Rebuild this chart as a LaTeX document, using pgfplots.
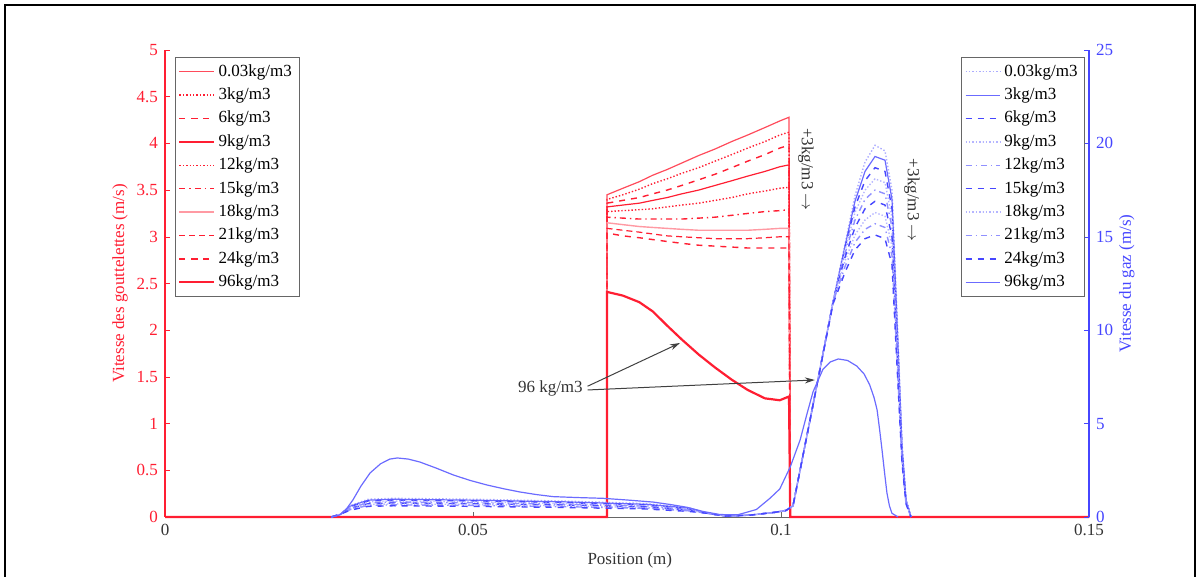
\documentclass[border=0pt]{standalone}
\usepackage{pgfplots}
\pgfplotsset{compat=1.18}
\usepackage{pgfplotstable}
\usepackage{fontspec}
\setmainfont{Liberation Serif}
\usetikzlibrary{arrows.meta}
\definecolor{myred}{RGB}{255,30,50}
\definecolor{myblue}{RGB}{70,70,255}
\newcommand{\fs}{\fontsize{8.5}{10}\selectfont}

% droplet velocity (left axis)
\pgfplotstableread{
x        r0   r1   r2   r3   r4   r5   r6   r7   r8   r96
0        0    0    0    0    0    0    0    0    0    0
0.07174  0    0    0    0    0    0    0    0    0    0
0.07176  3.45 3.40 3.36 3.32 3.27 3.21 3.15 3.09 3.04 2.41
0.07435  3.52 3.45 3.39 3.34 3.28 3.20 3.13 3.07 3.01 2.37
0.0770   3.59 3.51 3.42 3.36 3.29 3.19 3.11 3.05 2.99 2.30
0.0792   3.66 3.57 3.46 3.39 3.30 3.19 3.10 3.03 2.97 2.20
0.0815   3.72 3.62 3.50 3.42 3.32 3.19 3.09 3.01 2.95 2.05
0.0839   3.79 3.68 3.55 3.46 3.34 3.19 3.08 3.00 2.93 1.90
0.08663  3.87 3.74 3.61 3.50 3.36 3.20 3.07 2.99 2.91 1.74
0.0893   3.94 3.81 3.67 3.55 3.39 3.21 3.07 2.98 2.90 1.60
0.0920   4.02 3.88 3.74 3.60 3.42 3.23 3.07 2.98 2.89 1.47
0.0946   4.09 3.95 3.81 3.65 3.46 3.25 3.07 2.98 2.88 1.36
0.0974   4.17 4.02 3.88 3.70 3.49 3.27 3.08 2.99 2.88 1.27
0.0998   4.24 4.09 3.95 3.75 3.52 3.28 3.09 3.00 2.88 1.25
0.1013   4.28 4.12 3.98 3.77 3.53 3.29 3.09 3.00 2.88 1.29
0.1015   0    0    0    0    0    0    0    0    0    0
0.15     0    0    0    0    0    0    0    0    0    0
}\redtab

% gas velocity (right axis)
\pgfplotstableread{
x         b0   b1   b2   b3   b4   b5   b6   b7   b8
0.0270    0    0    0    0    0    0    0    0    0
0.0285    0.15 0.15 0.15 0.15 0.15 0.15 0.15 0.15 0.15
0.0300    0.60 0.57 0.54 0.51 0.48 0.45 0.42 0.39 0.36
0.0330    0.95 0.90 0.86 0.81 0.76 0.71 0.67 0.62 0.57
0.0370    1.00 0.95 0.90 0.85 0.80 0.75 0.70 0.65 0.60
0.0500    0.95 0.90 0.86 0.81 0.76 0.71 0.67 0.62 0.57
0.0650    0.85 0.81 0.77 0.72 0.68 0.64 0.60 0.55 0.51
0.0780    0.72 0.68 0.65 0.61 0.58 0.54 0.50 0.47 0.43
0.0850    0.50 0.48 0.45 0.43 0.40 0.38 0.35 0.33 0.30
0.0880    0.20 0.20 0.20 0.20 0.20 0.20 0.20 0.20 0.20
0.0910    0.05 0.05 0.05 0.05 0.05 0.05 0.05 0.05 0.05
0.0950    0.10 0.10 0.10 0.10 0.10 0.10 0.10 0.10 0.10
0.0990    0.25 0.25 0.25 0.25 0.25 0.25 0.25 0.25 0.25
0.100812  0.35 0.35 0.35 0.35 0.35 0.35 0.35 0.35 0.35
0.101948  0.6  0.6  0.6  0.6  0.6  0.6  0.6  0.6  0.6
0.105195  6.0  6.0  6.0  6.0  6.0  6.0  6.0  6.0  6.0
0.108442  11.5 11.5 11.5 11.5 11.5 11.5 11.5 11.5 11.4
0.110390  14.6 14.5 14.4 14.3 14.1 13.9 13.7 13.4 13.1
0.112013  17.2 16.9 16.6 16.3 15.9 15.5 15.1 14.7 14.3
0.113636  19.0 18.5 18.0 17.5 17.0 16.5 15.9 15.4 14.9
0.115260  19.9 19.3 18.7 18.1 17.5 16.9 16.3 15.7 15.1
0.116883  19.6 19.1 18.5 17.9 17.3 16.7 16.1 15.5 14.9
0.118019  17.5 17.0 16.5 16.0 15.5 15.0 14.5 14.0 13.5
0.118831  11.0 10.5 10.0 9.7  9.4  9.0  8.7  8.4  8.1
0.119643  4.0  3.8  3.6  3.5  3.4  3.2  3.1  3.0  2.9
0.120292  1.0  0.9  0.9  0.9  0.8  0.8  0.8  0.7  0.7
0.121104  0    0    0    0    0    0    0    0    0
}\bluetab

\pgfplotstableread{
x        b96
0.0270   0
0.0284   0.11
0.0295   0.45
0.0305   0.91
0.0318   1.65
0.0333   2.36
0.0350   2.85
0.0365   3.10
0.0377   3.16
0.0395   3.10
0.0414   2.94
0.0440   2.62
0.0468   2.25
0.0495   1.96
0.0523   1.71
0.0550   1.51
0.0576   1.34
0.0603   1.20
0.0630   1.09
0.0670   1.04
0.0711   1.00
0.0750   0.91
0.0792   0.80
0.0820   0.67
0.0847   0.52
0.0873   0.30
0.0901   0.13
0.0930   0.12
0.0960   0.40
0.0982   1.00
0.0998   1.50
0.1015   2.68
0.1031   4.12
0.1042   5.50
0.1052   6.70
0.1068   7.90
0.1080   8.30
0.1093   8.46
0.1108   8.38
0.1123   8.08
0.1135   7.65
0.1144   7.07
0.1151   6.40
0.1156   5.73
0.1160   4.70
0.1164   3.59
0.1168   2.40
0.1172   1.28
0.1176   0.60
0.1180   0.20
0.1190   0
}\bluenn

\begin{document}
\begin{tikzpicture}
\useasboundingbox (0,0) rectangle (599.5pt,288.5pt);
\draw[line width=1pt] (2.5pt,-10pt) -- (2.5pt,286pt) -- (597.5pt,286pt) -- (597.5pt,-10pt);

\begin{axis}[
  at={(82.5pt,30pt)}, anchor=south west,
  scale only axis, width=462pt, height=233.5pt,
  xmin=0, xmax=0.15, ymin=0, ymax=5,
  axis x line*=bottom, axis y line*=left,
  axis line style={-},
  x axis line style={black!60},
  y axis line style={myred, line width=0.6pt},
  tick align=inside, major tick length=2.5pt,
  xtick={0,0.05,0.1,0.15}, xticklabels={0,0.05,0.1,0.15},
  ytick={0,0.5,1,1.5,2,2.5,3,3.5,4,4.5,5},
  yticklabels={0,0.5,1,1.5,2,2.5,3,3.5,4,4.5,5},
  tick label style={font=\fs},
  xtick style={black!60}, ytick style={myred},
  yticklabel style={myred},
  xticklabel style={black!80},
  xlabel={Position (m)},
  xlabel style={font=\fs, black!80, at={(axis description cs:0.503,-0.092)}, anchor=center},
  ylabel={Vitesse des gouttelettes (m/s)},
  ylabel style={font=\fs, myred, at={(axis description cs:-0.0487,0.5)}, anchor=center},
  clip=false,
  legend style={at={(rel axis cs:0.0108,0.985)}, anchor=north west,
    draw=black!60, fill=white, font=\fs, row sep=0.3pt, inner sep=1.5pt},
  legend cell align=left,
]
\addplot[draw=myred!80, line width=0.6pt] table[x=x,y=r0]{\redtab};
\addplot[draw=myred, line width=0.7pt, densely dotted] table[x=x,y=r1]{\redtab};
\addplot[draw=myred, line width=0.7pt, dashed] table[x=x,y=r2]{\redtab};
\addplot[draw=myred, line width=0.6pt] table[x=x,y=r3]{\redtab};
\addplot[draw=myred, line width=0.7pt, densely dotted] table[x=x,y=r4]{\redtab};
\addplot[draw=myred, line width=0.7pt, dash dot] table[x=x,y=r5]{\redtab};
\addplot[draw=myred!45, line width=0.7pt] table[x=x,y=r6]{\redtab};
\addplot[draw=myred, line width=0.6pt, densely dashed] table[x=x,y=r7]{\redtab};
\addplot[draw=myred, line width=0.7pt, dashed] table[x=x,y=r8]{\redtab};
\addplot[draw=myred, line width=1.1pt] table[x=x,y=r96]{\redtab};
\legend{0.03kg/m3,3kg/m3,6kg/m3,9kg/m3,12kg/m3,15kg/m3,18kg/m3,21kg/m3,24kg/m3,96kg/m3}

\draw[-{Stealth[length=5pt,width=3pt]}, black!75, line width=0.5pt] (axis cs:0.0686,1.40) -- (axis cs:0.0836,1.863);
\draw[-{Stealth[length=5pt,width=3pt]}, black!75, line width=0.5pt] (axis cs:0.0686,1.36) -- (axis cs:0.1055,1.467);
\node[anchor=east, font=\fs, black!80, inner sep=1pt] at (axis cs:0.0682,1.38) {96 kg/m3};
\node[rotate=-90, font=\fs, black!80] at (axis cs:0.10406,3.72) {+3kg/m3 $\rightarrow$};
\node[rotate=-90, font=\fs, black!80] at (axis cs:0.12127,3.39) {+3kg/m3 $\rightarrow$};
\end{axis}

\begin{axis}[
  at={(82.5pt,30pt)}, anchor=south west,
  scale only axis, width=462pt, height=233.5pt,
  xmin=0, xmax=0.15, ymin=0, ymax=25,
  axis x line=none, axis y line*=right,
  axis line style={-},
  y axis line style={myblue, line width=0.6pt},
  tick align=inside, major tick length=2.5pt,
  ytick={0,5,10,15,20,25}, yticklabels={0,5,10,15,20,25},
  tick label style={font=\fs},
  ytick style={myblue}, yticklabel style={myblue},
  ylabel={Vitesse du gaz (m/s)},
  ylabel style={font=\fs, myblue, at={(axis description cs:1.041,0.5)}, anchor=center},
  clip=false,
  legend style={at={(rel axis cs:0.9957,0.985)}, anchor=north east,
    draw=black!60, fill=white, font=\fs, row sep=0.3pt, inner sep=1.5pt},
  legend cell align=left,
]
\addplot[draw=myblue!45, line width=0.7pt, densely dotted] table[x=x,y=b0]{\bluetab};
\addplot[draw=myblue!80, line width=0.6pt] table[x=x,y=b1]{\bluetab};
\addplot[draw=myblue, line width=0.7pt, dashed] table[x=x,y=b2]{\bluetab};
\addplot[draw=myblue!40, line width=0.7pt, densely dotted] table[x=x,y=b3]{\bluetab};
\addplot[draw=myblue!60, line width=0.7pt, dash dot] table[x=x,y=b4]{\bluetab};
\addplot[draw=myblue, line width=0.7pt, dashed] table[x=x,y=b5]{\bluetab};
\addplot[draw=myblue!40, line width=0.7pt, densely dotted] table[x=x,y=b6]{\bluetab};
\addplot[draw=myblue!60, line width=0.7pt, dash dot] table[x=x,y=b7]{\bluetab};
\addplot[draw=myblue, line width=0.7pt, dashed] table[x=x,y=b8]{\bluetab};
\addplot[draw=myblue!80, line width=0.6pt] table[x=x,y=b96]{\bluenn};
\legend{0.03kg/m3,3kg/m3,6kg/m3,9kg/m3,12kg/m3,15kg/m3,18kg/m3,21kg/m3,24kg/m3,96kg/m3}
\end{axis}
\end{tikzpicture}
\end{document}
